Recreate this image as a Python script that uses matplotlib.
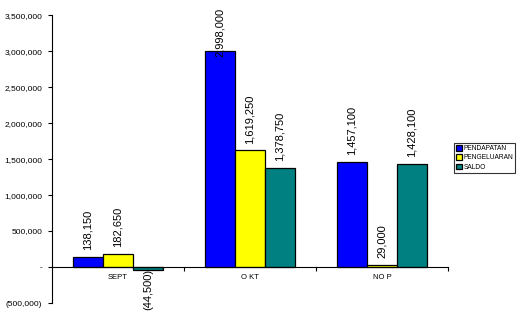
import numpy as np
import matplotlib
matplotlib.use('Agg')
import matplotlib.pyplot as plt
from matplotlib.ticker import FuncFormatter

# data
months = ['SEPT', 'O KT', 'NO P']
series = ['PENDAPATAN', 'PENGELUARAN', 'SALDO']
pendapatan = [138150, 2998000, 1457100]
pengeluaran = [182650, 1619250, 29000]
saldo = [-44500, 1378750, 1428100]
yticks = np.arange(-500000, 3500001, 500000)

colors = ['#0000ff', '#ffff00', '#008080']
plt.rcParams['font.family'] = 'Liberation Sans'

fig = plt.figure(figsize=(5.26, 3.22), dpi=100)
ax = fig.add_axes([0.0989, 0.059, 0.7528, 0.894])

x = np.arange(len(months))
w = 0.227
vals = [pendapatan, pengeluaran, saldo]
ymin, ymax = -500000, 3500000
fs = 8
for k, (name, v) in enumerate(zip(series, vals)):
    pos = x + (k - 1) * w
    ax.bar(pos, v, width=w, color=colors[k], edgecolor='k', lw=0.9, label=name, zorder=2)
    for xi, vi in zip(pos, v):
        s = '{:,}'.format(abs(vi))
        if vi < 0:
            s = '(' + s + ')'
            ax.annotate(s, (xi, 0), xytext=(0, -1), textcoords='offset points',
                        rotation=90, ha='center', va='top', fontsize=fs, zorder=3)
        elif vi + 750000 > ymax:
            # no room above the bar: pushed down to the top of the plot
            ax.text(xi, ymax + 105000, s, rotation=90, ha='center', va='top',
                    fontsize=fs, zorder=3, clip_on=False)
        else:
            ax.annotate(s, (xi, vi), xytext=(0, 5), textcoords='offset points',
                        rotation=90, ha='center', va='bottom', fontsize=fs, zorder=3)

ax.set_xlim(-0.5, 2.5)
ax.set_ylim(ymin, ymax)
ax.set_yticks(yticks)

def fmt(v, p):
    v = int(round(v))
    if v == 0:
        return '-'
    if v < 0:
        return '({:,})'.format(-v)
    return '{:,}'.format(v)

ax.yaxis.set_major_formatter(FuncFormatter(fmt))
ax.tick_params(axis='y', labelsize=6, length=3, width=0.8, direction='out', pad=4)

ax.set_xticks([0.5, 1.5, 2.5])
ax.set_xticklabels([])
ax.set_xticks(x, minor=True)
ax.set_xticklabels(months, minor=True)
ax.tick_params(axis='x', which='major', length=3, width=0.8, direction='out')
ax.tick_params(axis='x', which='minor', length=0, pad=5, labelsize=5.5)

ax.spines['top'].set_visible(False)
ax.spines['right'].set_visible(False)
ax.spines['bottom'].set_position(('data', 0))
ax.spines['left'].set_linewidth(0.8)
ax.spines['bottom'].set_linewidth(0.8)

leg = fig.legend(loc='upper left', bbox_to_anchor=(454 / 526, 1 - 143 / 322),
                 fontsize=4.8, frameon=True, fancybox=False, edgecolor='k',
                 handlelength=0.9, handleheight=0.9, handletextpad=0.2,
                 borderpad=0.3, labelspacing=0.35, borderaxespad=0)
leg.get_frame().set_linewidth(0.8)

fig.savefig('out.png', dpi=100)
